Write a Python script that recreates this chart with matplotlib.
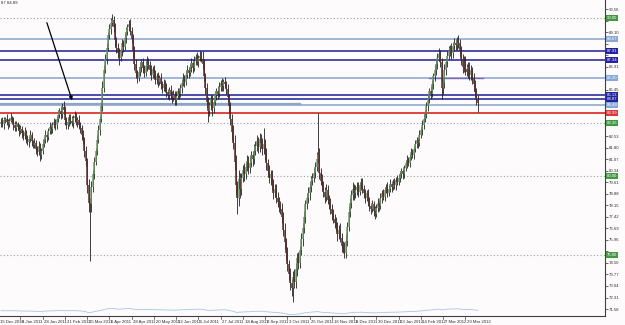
import matplotlib
matplotlib.use("Agg")
import matplotlib.pyplot as plt
import matplotlib.transforms as mtransforms
import numpy as np

# =============================
# Daily closes (bar index 0 = mid Dec 2010)
# =============================
closes = [
    83.45, 83.30, 83.55, 83.62, 83.40, 83.28, 83.50, 83.70, 83.55, 83.20, 83.05, 83.30, 83.10, 82.85, 82.95, 82.70,
    82.55, 82.80, 82.40, 82.15, 82.35, 82.60, 82.20, 81.95, 82.10, 81.70, 81.55, 81.90, 81.35, 81.60, 82.05, 82.30,
    82.60, 82.45, 82.85, 83.10, 82.95, 83.25, 83.40, 83.20, 83.60, 83.85, 84.10, 83.90, 84.35, 84.20, 83.55, 83.20,
    83.45, 83.70, 83.50, 83.35, 83.65, 83.80, 83.40, 83.55, 83.20, 83.05, 82.60, 82.25, 81.60, 80.95, 79.40, 78.30,
    78.20, 79.30, 80.10, 80.90, 81.60, 82.30, 82.90, 83.60, 84.40, 85.60, 86.70, 87.40, 88.10, 88.90, 89.30, 89.70,
    89.85, 89.40, 88.60, 88.10, 87.80, 87.45, 87.90, 88.40, 88.15, 88.75, 89.10, 89.40, 89.65, 89.20, 88.70, 87.90,
    87.10, 86.50, 86.20, 86.60, 86.90, 87.20, 86.85, 86.55, 86.95, 87.30, 87.05, 86.70, 86.40, 86.75, 86.50, 86.10,
    86.30, 85.95, 86.20, 85.80, 85.55, 85.85, 85.60, 85.30, 85.10, 85.45, 85.20, 84.95, 85.15, 84.80, 85.05, 85.35,
    85.20, 85.55, 85.90, 86.20, 85.95, 86.40, 86.70, 86.50, 86.90, 87.15, 86.85, 87.30, 87.55, 87.20, 87.45, 87.60,
    87.40, 87.10, 86.30, 85.60, 84.70, 84.10, 84.50, 84.85, 84.30, 84.70, 85.10, 85.40, 85.20, 85.65, 85.90, 85.70,
    85.95, 85.80, 85.50, 85.00, 84.40, 83.60, 82.80, 82.10, 80.90, 79.40, 78.60, 79.80, 79.20, 79.90, 80.40, 80.10,
    80.60, 80.95, 80.50, 80.85, 81.30, 81.05, 81.60, 81.90, 82.20, 81.85, 82.35, 82.10, 81.70, 82.05, 81.40, 80.80,
    80.30, 79.85, 80.10, 79.40, 78.95, 79.20, 78.60, 78.35, 78.10, 77.90, 77.40, 76.60, 75.80, 75.10, 74.40, 73.80,
    73.20, 72.90, 73.60, 73.30, 74.10, 74.80, 74.50, 75.30, 76.00, 76.70, 77.40, 78.20, 78.60, 78.90, 79.30, 79.70,
    79.90, 80.20, 80.60, 81.10, 81.40, 80.20, 79.70, 79.40, 79.00, 78.70, 79.10, 78.50, 78.20, 77.90, 77.60, 77.30,
    77.00, 76.80, 76.30, 76.60, 76.10, 75.60, 75.40, 75.10, 75.90, 76.80, 77.70, 78.30, 78.80, 79.20, 78.90, 79.10,
    79.30, 79.00, 79.40, 79.60, 79.20, 78.90, 78.60, 78.90, 78.40, 78.10, 77.90, 78.20, 77.80, 77.60, 78.00, 78.30,
    78.10, 78.60, 78.90, 78.70, 79.10, 79.30, 78.95, 79.20, 79.50, 79.30, 79.60, 79.40, 79.75, 79.60, 79.90, 80.10,
    80.30, 80.10, 80.50, 80.80, 81.00, 80.85, 81.20, 81.50, 81.35, 81.70, 82.00, 82.30, 82.10, 82.60, 82.90, 83.25,
    83.60, 83.95, 84.40, 84.90, 85.40, 85.20, 85.80, 86.30, 86.70, 87.10, 87.50, 87.70, 87.20, 85.60, 85.90, 86.70,
    87.20, 87.60, 87.90, 88.10, 87.80, 88.20, 88.45, 88.30, 88.60, 88.40, 87.90, 87.40, 86.90, 87.30, 86.80, 86.60,
    86.90, 86.40, 86.70, 86.20, 85.80, 85.30, 84.90, 84.62,
]
first_open = 83.30

# wick lengths in tenths of a yen (upper / lower)
wick_up = [
    2, 3, 2, 1, 3, 2, 2, 3, 1, 2, 3, 2, 1, 2, 3, 2,
    2, 3, 1, 2, 2, 3, 2, 1, 3, 2, 2, 3, 2, 2, 3, 2,
    3, 2, 2, 3, 2, 2, 3, 2, 2, 3, 2, 3, 3, 4, 2, 2,
    3, 2, 2, 3, 2, 3, 2, 2, 3, 2, 2, 3, 2, 3, 2, 4,
    3, 4, 3, 3, 2, 3, 3, 2, 3, 4, 3, 3, 3, 2, 3, 3,
    4, 3, 3, 2, 3, 3, 2, 3, 2, 3, 3, 2, 2, 3, 2, 3,
    3, 3, 2, 3, 3, 2, 3, 2, 3, 3, 2, 2, 3, 2, 3, 2,
    2, 3, 2, 3, 2, 3, 2, 3, 2, 2, 3, 2, 3, 2, 3, 2,
    2, 3, 2, 3, 2, 3, 3, 2, 2, 3, 2, 3, 2, 3, 2, 3,
    3, 5, 3, 2, 3, 3, 2, 3, 3, 2, 3, 2, 3, 3, 2, 3,
    2, 3, 2, 3, 2, 3, 3, 4, 5, 4, 3, 6, 4, 3, 3, 4,
    3, 4, 3, 4, 3, 3, 4, 3, 4, 3, 4, 3, 3, 10, 3, 4,
    3, 4, 3, 3, 4, 3, 3, 4, 3, 3, 4, 3, 4, 3, 4, 3,
    4, 3, 4, 5, 4, 3, 4, 3, 4, 3, 4, 3, 3, 4, 3, 3,
    3, 4, 3, 4, 26, 4, 3, 4, 3, 3, 4, 3, 3, 4, 3, 3,
    3, 4, 3, 3, 4, 3, 3, 4, 4, 3, 4, 3, 3, 4, 3, 3,
    3, 3, 2, 3, 3, 2, 3, 2, 3, 3, 2, 3, 2, 3, 2, 3,
    2, 3, 2, 3, 2, 2, 3, 2, 3, 2, 2, 3, 2, 3, 2, 2,
    2, 3, 2, 2, 3, 2, 2, 3, 2, 2, 3, 2, 2, 3, 2, 3,
    3, 2, 3, 3, 2, 3, 3, 2, 3, 3, 3, 4, 3, 3, 3, 4,
    3, 3, 3, 2, 3, 3, 3, 2, 2, 3, 3, 3, 3, 3, 3, 3,
    3, 3, 3, 2, 3, 3, 3, 2,
]
wick_dn = [
    2, 2, 3, 2, 2, 3, 2, 1, 2, 3, 2, 2, 2, 3, 2, 3,
    3, 2, 3, 2, 3, 2, 3, 2, 2, 3, 3, 2, 4, 3, 2, 2,
    2, 3, 2, 2, 3, 2, 2, 3, 2, 2, 2, 3, 2, 3, 3, 2,
    2, 3, 2, 2, 3, 2, 2, 3, 2, 3, 3, 2, 4, 3, 5, 6,
    36, 5, 3, 3, 2, 3, 2, 3, 2, 3, 3, 2, 3, 2, 2, 3,
    2, 3, 4, 3, 3, 4, 2, 3, 3, 2, 3, 2, 2, 3, 3, 4,
    4, 3, 3, 2, 3, 3, 3, 3, 2, 3, 3, 3, 3, 2, 3, 3,
    3, 3, 2, 3, 3, 2, 3, 3, 2, 3, 3, 3, 2, 3, 3, 2,
    3, 2, 3, 2, 3, 2, 2, 3, 2, 3, 3, 2, 3, 2, 3, 2,
    2, 3, 3, 4, 4, 7, 3, 3, 5, 3, 2, 3, 3, 2, 3, 3,
    3, 2, 3, 3, 4, 4, 5, 4, 5, 6, 10, 5, 6, 4, 3, 4,
    3, 3, 4, 3, 3, 4, 3, 3, 3, 4, 3, 3, 4, 3, 4, 4,
    3, 3, 4, 3, 4, 3, 3, 3, 4, 3, 4, 4, 4, 4, 4, 4,
    4, 5, 9, 4, 4, 4, 4, 3, 3, 4, 3, 4, 3, 3, 4, 3,
    3, 3, 3, 3, 3, 4, 3, 3, 3, 4, 3, 3, 3, 3, 4, 3,
    3, 3, 4, 3, 3, 4, 3, 3, 3, 3, 3, 3, 3, 3, 4, 3,
    3, 3, 2, 3, 3, 3, 3, 2, 3, 3, 3, 2, 3, 3, 2, 3,
    3, 2, 3, 2, 3, 2, 3, 2, 2, 3, 2, 2, 3, 2, 2, 3,
    2, 3, 2, 2, 3, 2, 3, 2, 2, 3, 2, 2, 3, 2, 2, 3,
    3, 2, 3, 3, 3, 3, 2, 3, 3, 3, 3, 2, 3, 7, 4, 3,
    3, 3, 2, 3, 4, 3, 3, 3, 3, 3, 3, 4, 4, 3, 4, 3,
    4, 3, 3, 4, 4, 3, 4, 6,
]

# =============================
# Horizontal levels drawn on the chart
# =============================
light_levels = [88.67, 86.20, 84.49]
navy_levels = [87.91, 87.34, 85.13, 84.87]
red_levels = [83.99]
dotted_levels = [90.00, 83.36, 80.00, 75.00]
gray_segment = (0, 215, 84.58)       # bar from, bar to, price
purple_segment = (308, 347, 86.20)
arrow_from = (32.4, 89.87)
arrow_to = (51.8, 84.62)

price_ticks = [90.56, 89.83, 89.10, 88.37, 87.64, 86.91, 86.18, 85.45, 84.72, 83.99,
               83.26, 82.53, 81.80, 81.07, 80.34, 79.61, 78.88, 78.15, 77.42, 76.69,
               75.96, 75.23, 74.50, 73.77, 73.04, 72.31, 71.58]

date_labels = ["15 Dec 2010", "6 Jan 2011", "28 Jan 2011", "21 Feb 2011", "15 Mar 2011",
               "6 Apr 2011", "28 Apr 2011", "20 May 2011", "13 Jun 2011", "5 Jul 2011",
               "27 Jul 2011", "18 Aug 2011", "9 Sep 2011", "3 Oct 2011", "25 Oct 2011",
               "16 Nov 2011", "8 Dec 2011", "30 Dec 2011", "23 Jan 2012", "14 Feb 2012",
               "7 Mar 2012", "29 Mar 2012"]
date_bars = [-2 + 16 * k for k in range(len(date_labels))]

FONT = ["Liberation Sans Narrow", "Liberation Sans", "DejaVu Sans"]
FS = 3.1

# =============================
# OHLC
# =============================
n = min(len(closes), len(wick_up), len(wick_dn))
c = np.array(closes[:n])
o = np.concatenate([[first_open], c[:-1]])
hi = np.maximum(o, c) + np.array(wick_up[:n]) / 10.0
lo = np.minimum(o, c) - np.array(wick_dn[:n]) / 10.0
idx = np.arange(n)

BG = "#fdfbfb"
fig = plt.figure(figsize=(6.25, 3.25), dpi=100, facecolor=BG)
ax = fig.add_axes([0.0, 9 / 325, 605 / 625, 1 - 9 / 325], facecolor=BG)

ax.set_xlim(-0.7, 434.5)
ax.set_ylim(71.14, 91.14)

# levels
for p in dotted_levels:
    ax.axhline(p, color="#9aa39a", lw=0.8, ls=(0, (1, 2)), zorder=1)
for p in light_levels:
    ax.axhline(p, color="#9fb7d9", lw=1.4, zorder=1)
for p in navy_levels:
    ax.axhline(p, color="#1c1c96", lw=1.1, zorder=1)
for p in red_levels:
    ax.axhline(p, color="#e0433f", lw=1.4, zorder=1)
ax.plot(gray_segment[:2], [gray_segment[2]] * 2, color="#8ea6c4", lw=1.6, zorder=1)
ax.plot(purple_segment[:2], [purple_segment[2]] * 2, color="#7a68b0", lw=1.0, zorder=1)

# candles
up = c >= o
ax.vlines(idx, lo, hi, color="#202020", lw=0.6, zorder=3)
ax.vlines(idx[up], o[up], c[up], color="#6f9a6a", lw=1.1, zorder=4)
ax.vlines(idx[~up], c[~up], o[~up], color="#5a2e2e", lw=1.1, zorder=4)

ax.annotate("", xy=arrow_to, xytext=arrow_from,
            arrowprops=dict(arrowstyle="-|>", color="black", lw=0.9,
                            mutation_scale=5), zorder=5)

# axes look
for s in ["left", "top"]:
    ax.spines[s].set_visible(False)
for s in ["right", "bottom"]:
    ax.spines[s].set_color("#404040")
    ax.spines[s].set_linewidth(0.8)
ax.set_xticks([])

box_levels = dotted_levels + light_levels + navy_levels + red_levels
shown_ticks = [p for p in price_ticks if min(abs(p - b) for b in box_levels) > 0.3]
ax.yaxis.tick_right()
ax.set_yticks(price_ticks)
ax.set_yticklabels([f"{p:.2f}" if p in shown_ticks else "" for p in price_ticks],
                   family=FONT)
ax.tick_params(axis="y", length=2, width=0.5, pad=1, labelsize=FS,
               colors="#303030")

# price boxes on the right axis
trans = mtransforms.blended_transform_factory(ax.transAxes, ax.transData)
boxes = ([(p, "#3f9a3f") for p in dotted_levels] +
         [(p, "#86a8d8") for p in light_levels] +
         [(p, "#2323a0") for p in navy_levels] +
         [(p, "#d93a36") for p in red_levels])
for p, col in boxes:
    ax.text(1.003, p, f"{p:.2f}", transform=trans, fontsize=FS, color="white",
            family=FONT, ha="left", va="center", clip_on=False, zorder=6,
            bbox=dict(boxstyle="square,pad=0.2", fc=col, ec="none"))

# date labels under the chart
dtrans = mtransforms.blended_transform_factory(ax.transData, ax.transAxes)
for b, lab in zip(date_bars, date_labels):
    ax.plot([b, b], [0, -0.008], transform=dtrans, color="#404040", lw=0.5,
            clip_on=False)
    ax.text(b + 1.2, -0.012, lab, transform=dtrans, fontsize=FS, family=FONT,
            color="#303030", ha="left", va="top", clip_on=False)

ax.text(0.002, 0.997, "87 84.89", transform=ax.transAxes, fontsize=FS,
        family=FONT, color="#303030", ha="left", va="top")

# faint overview line along the bottom edge
strip = fig.add_axes([0.0, 10 / 325, 605 / 625, 7 / 325])
strip.set_axis_off()
strip.set_xlim(-0.7, 434.5)
strip.plot(idx, c, color="#a9c6e6", lw=0.6)

fig.savefig("out.png", dpi=100, facecolor=BG)
